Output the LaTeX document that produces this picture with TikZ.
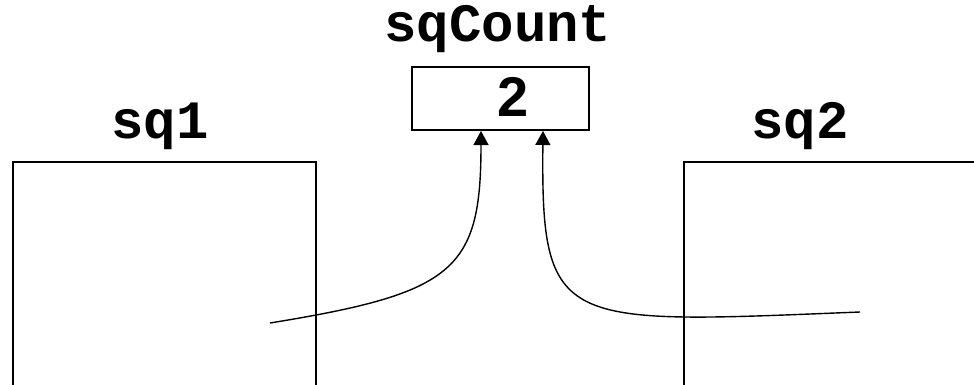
\documentclass[tikz,border=0pt]{standalone}
\usepackage{fontspec}
\setmonofont{Liberation Mono}
\newfontfamily\numfont{Liberation Sans}
\usetikzlibrary{arrows.meta}
\tikzset{
  lbl/.style={font=\fontsize{54}{54}\selectfont\ttfamily\bfseries, inner sep=0pt, anchor=base},
  wall/.style={line width=2pt},
  ptr/.style={line width=1.4pt, -{Triangle[length=14pt,width=15pt]}},
}
\begin{document}
\begin{tikzpicture}[x=1pt,y=-1pt]
\useasboundingbox (0,0) rectangle (974,385);
% sq1 object
\draw[wall] (13,385) -- (13,162) -- (316,162) -- (316,385);
% sq2 object
\draw[wall] (684,385) -- (684,162) -- (974,162);
% labels
\node[lbl] (l1) at (160,139) {sq1};
\node[lbl] (l2) at (800,139) {sq2};
\node[lbl] (lc) at (498,42) {sqCount};
% sqCount box
\node[draw, line width=2pt, minimum width=177pt, minimum height=63pt, inner sep=0pt] (cnt) at (500.5,98.5) {};
\node[font=\fontsize{56}{56}\selectfont\numfont\bfseries, inner sep=0pt, anchor=base] (two) at (513,117) {2};
\coordinate (s1) at (270,323);
\coordinate (s2) at (860,312);
\draw[ptr] (s1) .. controls (455,293) and (481,270) .. (cnt.south -| 481,0);
\draw[ptr] (s2) .. controls (560,324) and (541,330) .. (cnt.south -| 543,0);
\end{tikzpicture}
\end{document}
